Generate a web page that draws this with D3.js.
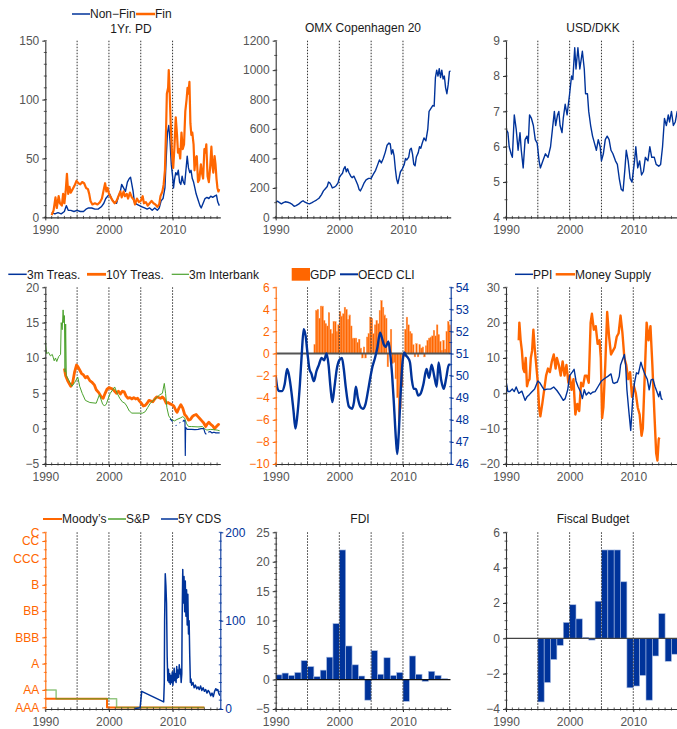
<!DOCTYPE html>
<html><head><meta charset="utf-8">
<script src="https://cdn.jsdelivr.net/npm/d3@7"></script>
<style>body{margin:0;background:#fff}</style>
</head><body><svg id="c" width="677" height="729"></svg>
<script>
// ---------------- DATA ----------------
const refYears = [1995, 2000, 2005, 2010];
const xTickYears = [1990, 2000, 2010];

// Panel 1: 1Yr PD
const pdNonFin = [[1991.0,4],[1991.5,3],[1992.0,4],[1992.5,3],[1993.0,5],[1993.3,10],[1993.6,6],[1994.0,6],[1994.5,5],[1995.0,6],[1995.5,5],[1996.0,5],[1996.4,7],[1996.8,8],[1997.3,8],[1997.8,7],[1998.3,7],[1998.8,9],[1999.2,12],[1999.5,16],[1999.8,18],[2000.1,20],[2000.4,16],[2000.8,13],[2001.2,12],[2001.5,18],[2001.8,22],[2002.0,28],[2002.3,25],[2002.6,22],[2002.9,30],[2003.2,33],[2003.4,34],[2003.6,28],[2003.8,22],[2004.0,13],[2004.4,11],[2004.8,10],[2005.2,9],[2005.6,8],[2006.0,7],[2006.4,8],[2006.8,6],[2007.2,8],[2007.6,6],[2007.9,8],[2008.2,14],[2008.5,16],[2008.8,25],[2009.0,50],[2009.2,72],[2009.4,78],[2009.6,65],[2009.8,45],[2010.0,35],[2010.15,25],[2010.3,32],[2010.5,38],[2010.7,36],[2010.9,40],[2011.1,30],[2011.3,28],[2011.5,35],[2011.7,30],[2011.9,28],[2012.1,40],[2012.3,52],[2012.5,42],[2012.7,38],[2012.9,40],[2013.1,33],[2013.3,30],[2013.5,25],[2013.7,20],[2014.0,15],[2014.3,10],[2014.5,8],[2014.8,12],[2015.1,16],[2015.4,17],[2015.7,16],[2016.0,18],[2016.3,17],[2016.6,18],[2016.9,19],[2017.1,13],[2017.35,10]];
const pdFin = [[1991.0,2],[1991.3,6],[1991.6,17],[1991.8,8],[1992.1,18],[1992.3,12],[1992.6,10],[1992.8,20],[1993.0,12],[1993.2,22],[1993.4,37],[1993.6,20],[1993.8,26],[1994.0,21],[1994.3,24],[1994.6,27],[1994.9,31],[1995.2,29],[1995.5,28],[1995.8,30],[1996.1,29],[1996.4,25],[1996.7,24],[1996.9,20],[1997.1,14],[1997.4,11],[1997.8,12],[1998.2,11],[1998.6,13],[1998.9,16],[1999.2,24],[1999.4,29],[1999.6,22],[1999.8,25],[2000.0,20],[2000.3,17],[2000.6,14],[2000.9,12],[2001.2,14],[2001.5,18],[2001.8,22],[2002.0,17],[2002.3,22],[2002.5,18],[2002.8,20],[2003.0,16],[2003.3,21],[2003.6,17],[2003.9,15],[2004.1,11],[2004.4,16],[2004.7,13],[2005.0,14],[2005.3,18],[2005.5,12],[2005.8,13],[2006.1,10],[2006.4,12],[2006.7,14],[2007.0,12],[2007.3,11],[2007.6,9],[2007.9,11],[2008.1,18],[2008.4,22],[2008.6,28],[2008.8,40],[2009.0,80],[2009.1,105],[2009.3,110],[2009.4,125],[2009.55,105],[2009.7,80],[2009.9,55],[2010.1,42],[2010.3,60],[2010.5,85],[2010.7,70],[2010.85,55],[2011.0,58],[2011.2,50],[2011.4,72],[2011.6,58],[2011.8,62],[2012.0,90],[2012.2,100],[2012.35,110],[2012.5,105],[2012.65,115],[2012.8,80],[2012.95,70],[2013.1,72],[2013.3,62],[2013.45,40],[2013.6,50],[2013.8,52],[2014.0,30],[2014.2,32],[2014.45,45],[2014.6,38],[2014.8,33],[2015.0,58],[2015.15,55],[2015.3,62],[2015.5,35],[2015.7,30],[2015.9,42],[2016.1,60],[2016.25,45],[2016.4,38],[2016.6,52],[2016.75,45],[2016.9,33],[2017.05,25],[2017.2,22],[2017.35,24]];

// Panel 2: OMX Copenhagen 20
const omx = [[1990.0,104],[1990.3,110],[1990.6,100],[1990.9,92],[1991.2,100],[1991.5,106],[1991.9,103],[1992.2,98],[1992.6,88],[1992.9,75],[1993.2,80],[1993.6,90],[1994.0,105],[1994.3,113],[1994.6,103],[1995.0,95],[1995.3,92],[1995.7,100],[1996.0,108],[1996.4,118],[1996.8,130],[1997.2,155],[1997.5,180],[1997.8,195],[1998.1,210],[1998.3,240],[1998.5,235],[1998.7,220],[1998.9,200],[1999.2,205],[1999.5,215],[1999.8,235],[2000.0,270],[2000.3,290],[2000.5,300],[2000.7,330],[2000.9,345],[2001.1,310],[2001.3,330],[2001.5,305],[2001.8,280],[2002.0,270],[2002.3,280],[2002.6,250],[2002.9,220],[2003.1,190],[2003.3,180],[2003.6,205],[2003.9,235],[2004.2,255],[2004.6,265],[2005.0,265],[2005.3,290],[2005.7,320],[2006.0,355],[2006.3,390],[2006.6,370],[2006.9,400],[2007.2,440],[2007.5,490],[2007.8,505],[2008.0,500],[2008.2,430],[2008.4,460],[2008.6,420],[2008.8,330],[2009.0,260],[2009.2,230],[2009.4,270],[2009.6,310],[2009.9,330],[2010.2,360],[2010.4,400],[2010.6,390],[2010.9,410],[2011.1,460],[2011.3,470],[2011.5,430],[2011.7,360],[2011.9,350],[2012.1,410],[2012.4,440],[2012.6,480],[2012.8,470],[2013.0,500],[2013.3,540],[2013.6,520],[2013.9,600],[2014.1,720],[2014.4,740],[2014.7,760],[2014.9,755],[2015.1,950],[2015.3,1000],[2015.5,960],[2015.7,1010],[2015.9,950],[2016.1,1000],[2016.3,940],[2016.5,960],[2016.7,880],[2016.9,840],[2017.1,900],[2017.3,990],[2017.5,995]];

// Panel 3: USD/DKK
const usdDkk = [[1990.0,6.5],[1990.3,6.4],[1990.5,6.0],[1990.8,5.8],[1991.0,5.7],[1991.3,6.9],[1991.6,6.5],[1991.9,5.9],[1992.2,6.4],[1992.4,5.9],[1992.7,5.4],[1993.0,6.2],[1993.3,6.3],[1993.5,6.1],[1993.7,6.9],[1994.0,6.8],[1994.3,6.6],[1994.6,6.2],[1994.9,6.1],[1995.2,5.6],[1995.4,5.4],[1995.8,5.6],[1996.2,5.8],[1996.6,5.7],[1997.0,6.0],[1997.3,6.5],[1997.6,7.0],[1997.8,6.6],[1998.1,6.9],[1998.3,7.0],[1998.5,6.6],[1998.8,6.4],[1999.0,6.8],[1999.3,7.2],[1999.6,6.9],[2000.0,7.5],[2000.3,8.0],[2000.5,7.9],[2000.8,8.8],[2001.0,8.2],[2001.3,8.8],[2001.6,8.2],[2002.0,8.7],[2002.3,8.2],[2002.5,7.5],[2002.8,7.5],[2003.0,7.0],[2003.3,6.6],[2003.6,6.3],[2003.9,6.1],[2004.2,5.9],[2004.5,6.2],[2004.8,6.0],[2005.0,5.6],[2005.3,5.8],[2005.6,6.2],[2005.9,6.3],[2006.2,6.2],[2006.5,5.9],[2006.8,5.8],[2007.2,5.6],[2007.5,5.5],[2007.8,5.1],[2008.1,4.8],[2008.4,4.75],[2008.7,5.4],[2008.9,5.9],[2009.2,5.6],[2009.5,5.1],[2009.8,5.0],[2010.2,5.6],[2010.4,6.0],[2010.7,5.4],[2011.0,5.6],[2011.3,5.2],[2011.6,5.3],[2011.9,5.7],[2012.3,5.6],[2012.6,6.0],[2012.9,5.7],[2013.3,5.7],[2013.6,5.5],[2014.0,5.45],[2014.3,5.5],[2014.6,6.0],[2014.9,6.8],[2015.2,6.6],[2015.5,6.9],[2015.7,6.7],[2016.0,7.0],[2016.3,6.6],[2016.6,6.7],[2016.9,7.0],[2017.2,6.7]];

// Panel 4: rates
const treas3m = [[2009.6,1.4],[2009.8,1.2],[2010.0,1.0],[2010.1,null],[2010.5,0.5],[2010.6,0.4],[2010.7,null],[2011.1,0.9],[2011.2,0.8],[2011.3,null],[2011.6,1.0],[2011.8,1.2],[2011.95,1.0],[2012.0,-3.8],[2012.05,0.2],[2012.3,-0.1],[2012.6,-0.1],[2013.0,-0.1],[2013.5,-0.15],[2014.0,-0.1],[2014.5,0.0],[2014.9,0.0],[2015.1,-0.6],[2015.3,-0.8],[2015.4,null],[2015.6,-0.5],[2015.9,-0.4],[2016.2,-0.6],[2016.5,-0.5],[2016.8,-0.6],[2017.1,-0.6],[2017.4,-0.6]];
const treas10y = [[1993.0,8.5],[1993.2,7.5],[1993.5,6.8],[1993.8,6.3],[1994.0,6.0],[1994.3,6.5],[1994.6,8.0],[1994.9,9.0],[1995.1,8.8],[1995.4,8.3],[1995.7,7.8],[1996.0,7.6],[1996.3,7.2],[1996.6,7.4],[1997.0,6.8],[1997.3,6.6],[1997.7,6.2],[1998.0,5.5],[1998.4,5.1],[1998.8,4.5],[1999.1,4.3],[1999.4,5.0],[1999.7,5.6],[2000.0,5.8],[2000.3,5.7],[2000.6,5.6],[2000.9,5.3],[2001.2,5.0],[2001.5,5.3],[2001.8,4.9],[2002.1,5.3],[2002.4,5.2],[2002.7,4.6],[2003.0,4.3],[2003.3,4.4],[2003.6,4.2],[2003.9,4.4],[2004.2,4.2],[2004.5,4.3],[2004.8,3.9],[2005.1,3.6],[2005.4,3.2],[2005.7,3.3],[2006.0,3.6],[2006.3,4.0],[2006.6,3.9],[2006.9,3.8],[2007.2,4.2],[2007.5,4.5],[2007.8,4.4],[2008.1,4.3],[2008.4,4.5],[2008.7,4.2],[2009.0,3.6],[2009.3,3.7],[2009.6,3.5],[2009.9,3.4],[2010.2,3.2],[2010.5,2.6],[2010.7,2.3],[2011.0,2.9],[2011.3,3.4],[2011.6,2.9],[2011.9,2.0],[2012.2,1.7],[2012.5,1.2],[2012.8,1.3],[2013.1,1.7],[2013.4,1.9],[2013.7,2.0],[2014.0,1.7],[2014.3,1.4],[2014.6,1.1],[2014.9,0.8],[2015.2,0.3],[2015.4,0.6],[2015.7,0.9],[2016.0,0.6],[2016.3,0.4],[2016.6,0.0],[2016.9,0.3],[2017.2,0.6],[2017.4,0.5]];
const interbank3m = [[1990.0,12.5],[1990.2,10.6],[1990.5,10.8],[1990.8,10.3],[1991.1,10.5],[1991.4,9.6],[1991.6,10.0],[1991.8,9.5],[1992.1,10.2],[1992.4,10.5],[1992.5,15.0],[1992.65,14.0],[1992.8,16.8],[1992.9,15.0],[1993.0,16.0],[1993.1,8.0],[1993.2,14.8],[1993.3,7.5],[1993.6,7.0],[1993.9,6.5],[1994.2,6.0],[1994.6,6.5],[1995.1,7.3],[1995.4,6.0],[1995.8,5.0],[1996.3,4.0],[1997.0,3.7],[1998.0,3.6],[1998.5,4.8],[1999.0,3.5],[1999.3,3.2],[1999.6,3.5],[1999.9,4.3],[2000.2,5.0],[2000.6,5.5],[2000.9,5.9],[2001.3,5.0],[2001.7,4.3],[2002.1,3.8],[2002.5,3.6],[2002.8,3.2],[2003.2,2.5],[2003.6,2.2],[2005.3,2.2],[2005.7,2.4],[2006.1,3.0],[2006.5,3.6],[2007.0,4.0],[2007.5,4.4],[2008.0,4.8],[2008.4,5.0],[2008.7,6.4],[2008.9,5.0],[2009.1,3.0],[2009.4,1.8],[2009.8,1.3],[2010.3,1.1],[2010.7,1.3],[2011.2,1.5],[2011.6,1.7],[2011.9,1.5],[2012.2,0.7],[2012.5,0.3],[2013.0,0.3],[2014.0,0.25],[2014.7,0.3],[2015.0,0.0],[2015.4,-0.2],[2016.0,-0.1],[2016.5,-0.15],[2017.0,-0.2],[2017.4,-0.3]];

// Panel 5: GDP (quarterly, from 1996Q1) and OECD CLI
const gdpStartYear = 1996;
const gdp = [0.8,3.9,4.0,3.2, 4.3,4.3,3.0,2.7, 2.5,3.7,2.2,1.8, 2.9,2.9,2.0,2.6, 3.8,3.4,3.6,4.2, 4.0,3.1,3.5,2.5, 1.4,1.4,1.4,1.0, 1.3,0.5,-0.4,0.6, -0.4,1.5,1.8,3.3, 3.2,1.8,2.6,3.0, 2.7,3.9,4.8,4.2, 3.5,3.2,-1.2,1.0, 2.2,-0.9,-0.8,-2.3, -4.0,-6.2,-5.0,-3.0, -0.3,2.2,3.3,2.6, 2.0,1.8,0.8,-0.3, 0.9,-0.3,0.8,0.5, 0.6,-0.3,0.7,1.2, 1.4,1.5,1.6,2.1, 1.6,2.6,1.7,1.1, 0.3,1.2,0.4,2.0, 2.9,2.6];
const oecdCli = [[1990.0,50.0],[1990.3,49.4],[1990.6,49.3],[1991.0,49.3],[1991.4,49.6],[1991.8,50.3],[1992.1,50.0],[1992.5,49.2],[1992.8,48.4],[1993.1,47.6],[1993.4,48.2],[1993.8,49.6],[1994.1,51.0],[1994.4,52.1],[1994.7,51.8],[1995.0,51.0],[1995.3,50.3],[1995.6,50.1],[1996.0,49.75],[1996.4,50.2],[1996.8,50.5],[1997.2,50.8],[1997.6,50.7],[1998.0,51.0],[1998.3,50.5],[1998.6,49.5],[1998.9,48.8],[1999.2,49.4],[1999.6,50.3],[2000.0,50.7],[2000.4,50.8],[2000.7,50.3],[2001.0,49.5],[2001.5,48.6],[2002.0,48.5],[2002.3,48.8],[2002.6,49.5],[2002.9,49.0],[2003.3,48.6],[2003.7,48.5],[2004.1,48.7],[2004.5,49.3],[2004.8,49.8],[2005.2,50.4],[2005.6,50.8],[2006.0,51.3],[2006.4,51.95],[2006.7,51.7],[2007.0,51.4],[2007.3,51.3],[2007.7,51.55],[2008.0,51.0],[2008.3,50.0],[2008.6,48.6],[2008.9,47.1],[2009.1,46.45],[2009.3,47.2],[2009.6,49.0],[2009.9,50.5],[2010.2,51.05],[2010.5,50.9],[2010.8,50.8],[2011.1,50.6],[2011.4,49.8],[2011.7,49.4],[2012.0,49.4],[2012.4,49.1],[2012.8,49.2],[2013.2,49.6],[2013.7,50.3],[2014.1,49.9],[2014.5,50.5],[2014.9,50.0],[2015.3,49.5],[2015.6,50.6],[2016.0,49.8],[2016.4,49.4],[2016.8,49.9],[2017.2,50.5],[2017.5,50.5]];

// Panel 6: PPI and Money Supply
const ppi = [[1990.0,3.5],[1990.3,0.5],[1990.6,0.5],[1991.0,1.2],[1991.3,0.5],[1991.6,1.8],[1992.0,0.0],[1992.5,0.6],[1993.0,-2.0],[1993.3,-1.0],[1993.7,-0.3],[1994.0,0.3],[1994.5,1.2],[1995.0,3.5],[1995.3,3.0],[1995.7,1.8],[1996.0,1.0],[1996.5,1.2],[1997.0,1.2],[1997.5,1.8],[1998.0,0.8],[1998.5,-0.5],[1999.0,-2.0],[1999.3,-1.5],[1999.7,1.0],[2000.0,5.0],[2000.4,6.0],[2000.7,6.8],[2001.0,3.5],[2001.3,2.0],[2001.7,0.5],[2002.0,-1.5],[2002.3,1.0],[2002.6,-0.5],[2003.0,0.3],[2003.3,-0.2],[2003.6,0.3],[2004.0,0.5],[2004.5,2.0],[2005.0,3.5],[2005.5,4.2],[2006.0,4.8],[2006.5,5.5],[2006.8,3.0],[2007.0,2.8],[2007.5,3.2],[2007.8,4.8],[2008.0,8.0],[2008.3,9.5],[2008.6,11.0],[2008.8,8.0],[2009.0,1.0],[2009.3,-5.0],[2009.6,-10.5],[2009.9,-2.0],[2010.2,3.0],[2010.5,5.8],[2010.8,5.5],[2011.2,8.8],[2011.5,7.0],[2011.8,5.5],[2012.2,4.0],[2012.5,1.0],[2012.8,3.8],[2013.1,4.0],[2013.4,2.0],[2013.7,0.5],[2014.0,-1.0],[2014.2,0.5],[2014.4,-1.5],[2014.6,-1.8]];
const moneySupply = [[1992.0,15],[1992.1,20],[1992.3,15],[1992.5,12],[1992.7,7],[1992.9,6],[1993.1,10],[1993.3,2],[1993.5,3.5],[1993.7,4],[1993.9,10],[1994.1,12],[1994.3,18],[1994.5,13],[1994.7,9],[1995.0,3],[1995.2,-4],[1995.4,-6.5],[1995.7,-3],[1996.0,1],[1996.3,5],[1996.6,7],[1996.9,6],[1997.2,9],[1997.5,11],[1997.8,7],[1998.0,10],[1998.3,8],[1998.6,5],[1998.9,9],[1999.2,5],[1999.5,8],[1999.8,3],[2000.0,5],[2000.3,1],[2000.6,4],[2000.9,-6],[2001.2,-3],[2001.5,-5],[2001.8,3],[2002.1,2],[2002.4,5],[2002.7,5],[2003.0,3],[2003.3,20],[2003.5,22.5],[2003.8,18],[2004.1,19],[2004.4,14],[2004.7,15],[2004.9,10],[2005.1,-7],[2005.3,-4],[2005.6,8],[2005.9,23],[2006.2,16],[2006.5,11],[2006.8,12],[2007.1,13],[2007.4,16],[2007.7,17],[2008.0,22],[2008.3,17],[2008.6,10],[2008.9,8],[2009.2,4],[2009.5,6],[2009.8,-1],[2010.1,2],[2010.4,0],[2010.7,-4],[2011.0,-6],[2011.3,-12],[2011.5,-10],[2011.8,5],[2012.1,20],[2012.4,15],[2012.7,19],[2013.0,8],[2013.3,-5],[2013.6,-17],[2013.8,-19],[2014.0,-13],[2014.1,-12.5]];

// Panel 7: ratings and 5Y CDS
const ratingLabels = ["AAA","AA","A","BBB","BB","B","CCC","CC","C"];
const ratingNotches = [1,3,6,9,12,15,18,20,21];
const moodys = [[1990.0,2],[1999.7,1],[2015.0,1]];
const sp = [[1990.0,3],[1991.7,2],[2001.2,1],[2015.0,1]];
const cds5y = [[2004.1,0.5],[2004.9,1.5],[2005.15,20],[2008.6,8],[2008.7,30],[2008.75,100],[2008.85,153],[2008.95,140],[2009.05,120],[2009.15,60],[2009.25,32],[2009.35,45],[2009.45,30],[2009.55,40],[2009.65,28],[2009.75,38],[2009.85,30],[2009.95,42],[2010.05,27],[2010.15,35],[2010.25,46],[2010.35,32],[2010.45,40],[2010.55,30],[2010.65,48],[2010.75,35],[2010.85,44],[2010.95,36],[2011.05,50],[2011.15,40],[2011.25,45],[2011.35,30],[2011.45,40],[2011.5,100],[2011.6,158],[2011.7,120],[2011.8,150],[2011.9,110],[2012.0,145],[2012.1,105],[2012.2,135],[2012.3,95],[2012.4,130],[2012.5,85],[2012.6,100],[2012.7,60],[2012.8,30],[2012.9,34],[2013.0,27],[2013.2,30],[2013.4,24],[2013.6,27],[2013.8,23],[2014.0,25],[2014.2,22],[2014.4,26],[2014.6,21],[2014.8,24],[2015.0,20],[2015.2,22],[2015.4,18],[2015.6,21],[2015.8,19],[2016.0,15],[2016.2,18],[2016.4,14],[2016.6,20],[2016.8,23],[2016.95,21],[2017.1,22],[2017.3,17],[2017.45,15]];

// Panel 8: FDI (annual)
const fdiYears = [1990,1991,1992,1993,1994,1995,1996,1997,1998,1999,2000,2001,2002,2003,2004,2005,2006,2007,2008,2009,2010,2011,2012,2013,2014,2015,2016];
const fdi = [0.8,1.1,0.7,1.2,3.2,2.2,0.5,1.6,3.8,9.5,22.0,5.7,2.5,0.6,-3.5,4.9,0.9,3.7,0.7,1.2,-3.7,4.0,0.9,-0.3,1.4,0.7,0.15];

// Panel 9: Fiscal Budget (annual)
const fiscalYears = [1995,1996,1997,1998,1999,2000,2001,2002,2003,2004,2005,2006,2007,2008,2009,2010,2011,2012,2013,2014,2015,2016];
const fiscal = [-3.6,-2.5,-1.2,-0.4,0.9,1.9,1.1,0.05,-0.1,2.1,5.0,5.0,5.0,3.2,-2.8,-2.7,-2.1,-3.5,-1.0,1.4,-1.3,-0.9];

// ---------------- STYLE / LAYOUT ----------------
const BLUE = "#00339A", ORANGE = "#FF6600", GREEN = "#4CA22E";
const AXIS = "#333333", TICKTXT = "#555555", TXT = "#1a1a1a";
const FONT = "'Liberation Sans', Arial, Helvetica, sans-serif";
const COLX = [45.3, 275.7, 506], ROWY = [40.7, 287.3, 532.3], W = 175, H = 176.7;
const numFmt = d3.format("d");

const svg = d3.select("#c");
const defs = svg.append("defs");

function makePanel(col, row, yDomain) {
  const x0 = COLX[col], y0 = ROWY[row];
  const x = d3.scaleLinear().domain([1990, 2017.5]).range([x0, x0 + W]);
  const y = d3.scaleLinear().domain(yDomain).range([y0 + H, y0]);
  const id = "clip" + col + "_" + row;
  defs.append("clipPath").attr("id", id).append("rect")
    .attr("x", x0).attr("y", y0 - 2).attr("width", W).attr("height", H + 4);
  const back = svg.append("g").attr("clip-path", `url(#${id})`);
  const front = svg.append("g").attr("clip-path", `url(#${id})`);
  return { x, y, x0, y0, back, front, id };
}

function refLines(p) {
  p.back.selectAll(null).data(refYears).join("line")
    .attr("x1", d => p.x(d)).attr("x2", d => p.x(d))
    .attr("y1", p.y0).attr("y2", p.y0 + H)
    .attr("stroke", "#333").attr("stroke-width", 1).attr("stroke-dasharray", "1.5,1.5");
}

function xAxis(p) {
  const g = svg.append("g").attr("transform", `translate(0,${p.y0 + H})`)
    .call(d3.axisBottom(p.x).tickValues(xTickYears).tickFormat(numFmt).tickSize(3).tickSizeOuter(0).tickPadding(5));
  g.select(".domain").attr("stroke", AXIS).attr("stroke-width", 1.1);
  g.selectAll(".tick line").attr("stroke", AXIS);
  g.selectAll("text").attr("fill", TICKTXT).attr("font-size", 12).attr("font-family", FONT);
  const minor = d3.range(1990, 2018, 1);
  g.selectAll(null).data(minor).join("line")
    .attr("x1", d => p.x(d)).attr("x2", d => p.x(d)).attr("y1", -1.5).attr("y2", 1.5)
    .attr("stroke", AXIS).attr("stroke-width", 0.8);
}

function yAxis(p, scale, side, ticks, minorStep, color, txtColor, fmt) {
  const xpos = side === "left" ? p.x0 : p.x0 + W;
  const ax = (side === "left" ? d3.axisLeft(scale) : d3.axisRight(scale))
    .tickValues(ticks).tickSize(3).tickSizeOuter(0).tickPadding(side === "left" ? 3 : 2)
    .tickFormat(fmt || numFmt);
  const g = svg.append("g").attr("transform", `translate(${xpos},0)`).call(ax);
  g.select(".domain").attr("stroke", color).attr("stroke-width", 1.1);
  g.selectAll(".tick line").attr("stroke", color);
  g.selectAll("text").attr("fill", txtColor).attr("font-size", 12).attr("font-family", FONT);
  if (minorStep) {
    const [a, b] = scale.domain();
    const lo = Math.ceil(Math.min(a, b) / minorStep) * minorStep;
    const minor = d3.range(lo, Math.max(a, b) + 1e-9, minorStep);
    g.selectAll(null).data(minor).join("line")
      .attr("x1", -1.5).attr("x2", 1.5).attr("y1", d => scale(d)).attr("y2", d => scale(d))
      .attr("stroke", color).attr("stroke-width", 0.8);
  }
  return g;
}

function drawLine(p, scale, data, color, width, curve) {
  const line = d3.line().defined(d => d[1] !== null)
    .x(d => p.x(d[0])).y(d => scale(d[1]));
  if (curve) line.curve(curve);
  return p.front.append("path").datum(data).attr("d", line)
    .attr("fill", "none").attr("stroke", color).attr("stroke-width", width)
    .attr("stroke-linejoin", "round");
}

function zeroLine(p, color, width) {
  p.front.append("line").attr("x1", p.x0).attr("x2", p.x0 + W)
    .attr("y1", p.y(0)).attr("y2", p.y(0)).attr("stroke", color).attr("stroke-width", width);
}

function text(x, y, s, opts = {}) {
  return svg.append("text").attr("x", x).attr("y", y).text(s)
    .attr("font-family", FONT).attr("font-size", 12)
    .attr("fill", opts.fill || TXT).attr("text-anchor", opts.anchor || "start");
}

function legendLine(x1, x2, y, color, w) {
  svg.append("line").attr("x1", x1).attr("x2", x2).attr("y1", y).attr("y2", y)
    .attr("stroke", color).attr("stroke-width", w);
}

// ---------------- PANEL 1 ----------------
{
  const p = makePanel(0, 0, [0, 150]);
  refLines(p);
  drawLine(p, p.y, pdNonFin, BLUE, 1.4);
  drawLine(p, p.y, pdFin, ORANGE, 2.2);
  xAxis(p);
  yAxis(p, p.y, "left", [0, 50, 100, 150], 10, AXIS, TICKTXT);
  legendLine(72, 90, 14, BLUE, 1.5); text(90, 18.3, "Non\u2212Fin");
  legendLine(136, 155, 14, ORANGE, 2.5); text(155, 18.3, "Fin");
  text(131, 33.3, "1Yr. PD", { anchor: "middle" });
}
// ---------------- PANEL 2 ----------------
{
  const p = makePanel(1, 0, [0, 1200]);
  refLines(p);
  drawLine(p, p.y, omx, BLUE, 1.4);
  xAxis(p);
  yAxis(p, p.y, "left", d3.range(0, 1201, 200), 100, AXIS, TICKTXT);
  text(363, 31.6, "OMX Copenhagen 20", { anchor: "middle" });
}
// ---------------- PANEL 3 ----------------
{
  const p = makePanel(2, 0, [4, 9]);
  refLines(p);
  drawLine(p, p.y, usdDkk, BLUE, 1.4);
  xAxis(p);
  yAxis(p, p.y, "left", [4, 5, 6, 7, 8, 9], 0.5, AXIS, TICKTXT);
  text(593, 31.6, "USD/DKK", { anchor: "middle" });
}
// ---------------- PANEL 4 ----------------
{
  const p = makePanel(0, 1, [-5, 20]);
  refLines(p);
  drawLine(p, p.y, treas10y, ORANGE, 2.8);
  drawLine(p, p.y, interbank3m, GREEN, 1);
  drawLine(p, p.y, treas3m, BLUE, 1.2);
  xAxis(p);
  yAxis(p, p.y, "left", [-5, 0, 5, 10, 15, 20], 1, AXIS, TICKTXT);
  const ly = 274.3, ty = 278.6;
  legendLine(8.3, 26.7, ly, BLUE, 1.5); text(27, ty, "3m Treas.");
  legendLine(87, 106, ly, ORANGE, 2.8); text(106, ty, "10Y Treas.");
  legendLine(171.7, 189, ly, GREEN, 1.2); text(189, ty, "3m Interbank");
}
// ---------------- PANEL 5 ----------------
{
  const p = makePanel(1, 1, [-10, 6]);
  const yR = d3.scaleLinear().domain([46, 54]).range([p.y0 + H, p.y0]);
  p.back.selectAll(null).data(gdp).join("rect")
    .attr("x", (d, i) => p.x(gdpStartYear + i * 0.25))
    .attr("width", (d, i) => p.x(gdpStartYear + (i + 1) * 0.25) - p.x(gdpStartYear + i * 0.25))
    .attr("y", d => p.y(Math.max(0, d)))
    .attr("height", d => Math.abs(p.y(d) - p.y(0)))
    .attr("fill", ORANGE).attr("stroke", "#FF9A55").attr("stroke-width", 0.4);
  refLines(p);
  zeroLine(p, "#555", 2);
  drawLine(p, yR, oecdCli, BLUE, 2.4, d3.curveMonotoneX);
  xAxis(p);
  yAxis(p, p.y, "left", d3.range(-10, 7, 2), 1, ORANGE, ORANGE);
  yAxis(p, yR, "right", d3.range(46, 55, 1), 0.5, BLUE, BLUE);
  const ly = 274.3, ty = 278.6;
  svg.append("rect").attr("x", 291.7).attr("y", 268).attr("width", 18.3).attr("height", 12.7).attr("fill", ORANGE);
  text(310, ty, "GDP");
  legendLine(340, 358, ly, BLUE, 2); text(358, ty, "OECD CLI");
}
// ---------------- PANEL 6 ----------------
{
  const p = makePanel(2, 1, [-20, 30]);
  refLines(p);
  drawLine(p, p.y, moneySupply, ORANGE, 2.4);
  drawLine(p, p.y, ppi, BLUE, 1.4);
  xAxis(p);
  yAxis(p, p.y, "left", [-20, -10, 0, 10, 20, 30], 2, AXIS, TICKTXT);
  const ly = 274.3, ty = 278.6;
  legendLine(515, 533, ly, BLUE, 1.5); text(533, ty, "PPI");
  legendLine(555.7, 575, ly, ORANGE, 2.5); text(575, ty, "Money Supply");
}
// ---------------- PANEL 7 ----------------
{
  const p = makePanel(0, 2, [0.82, 21]);
  const yR = d3.scaleLinear().domain([0, 200]).range([p.y0 + H, p.y0]);
  refLines(p);
  drawLine(p, p.y, moodys, ORANGE, 2, d3.curveStepAfter);
  drawLine(p, p.y, sp, GREEN, 1.5, d3.curveStepAfter).attr("stroke-opacity", 0.6);
  drawLine(p, yR, cds5y, BLUE, 1.5);
  xAxis(p);
  yAxis(p, p.y, "left", ratingNotches, 1, ORANGE, ORANGE, d => ratingLabels[ratingNotches.indexOf(d)]);
  yAxis(p, yR, "right", [0, 100, 200], 10, BLUE, BLUE);
  const ly = 519, ty = 523.3;
  legendLine(43, 62, ly, ORANGE, 2); text(62, ty, "Moody\u2019s");
  legendLine(108, 126, ly, GREEN, 1.5); text(126, ty, "S&P");
  legendLine(161, 178, ly, BLUE, 1.5); text(178, ty, "5Y CDS");
}
// ---------------- PANEL 8 ----------------
{
  const p = makePanel(1, 2, [-5, 25]);
  p.back.selectAll(null).data(fdi).join("rect")
    .attr("x", (d, i) => p.x(fdiYears[i]))
    .attr("width", (d, i) => p.x(fdiYears[i] + 1) - p.x(fdiYears[i]))
    .attr("y", d => p.y(Math.max(0, d)))
    .attr("height", d => Math.abs(p.y(d) - p.y(0)))
    .attr("fill", BLUE).attr("stroke", "#A9BDE3").attr("stroke-width", 0.6);
  refLines(p);
  zeroLine(p, "#111", 1.3);
  xAxis(p);
  yAxis(p, p.y, "left", d3.range(-5, 26, 5), 1, AXIS, TICKTXT);
  text(360, 523.3, "FDI", { anchor: "middle" });
}
// ---------------- PANEL 9 ----------------
{
  const p = makePanel(2, 2, [-4, 6]);
  p.back.selectAll(null).data(fiscal).join("rect")
    .attr("x", (d, i) => p.x(fiscalYears[i]))
    .attr("width", (d, i) => p.x(fiscalYears[i] + 1) - p.x(fiscalYears[i]))
    .attr("y", d => p.y(Math.max(0, d)))
    .attr("height", d => Math.abs(p.y(d) - p.y(0)))
    .attr("fill", BLUE).attr("stroke", "#A9BDE3").attr("stroke-width", 0.6);
  refLines(p);
  zeroLine(p, "#444", 1.3);
  xAxis(p);
  yAxis(p, p.y, "left", d3.range(-4, 7, 2), 0.5, AXIS, TICKTXT);
  text(593, 523.3, "Fiscal Budget", { anchor: "middle" });
}
</script>
</body></html>
